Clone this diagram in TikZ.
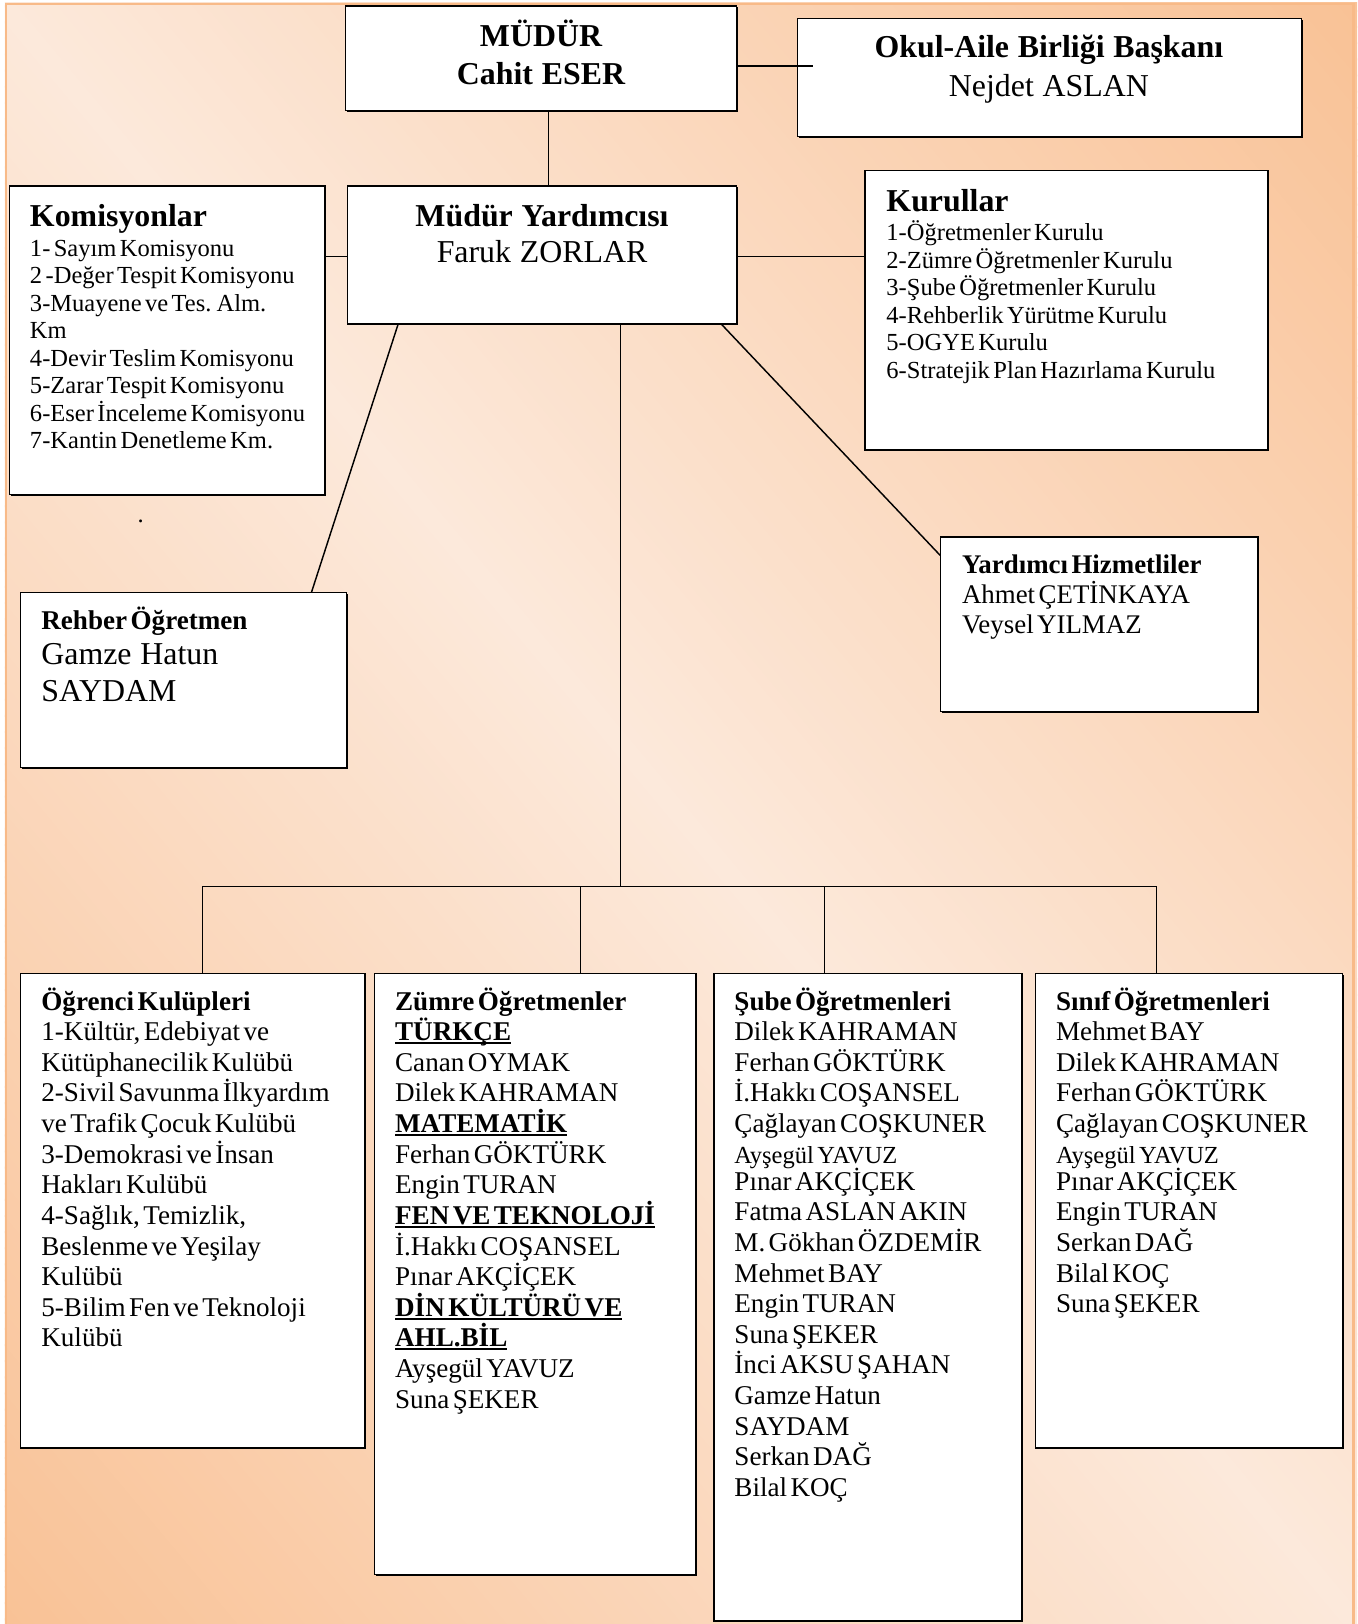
\documentclass[tikz,border=0pt]{standalone}
\usepackage{fontspec}
\setmainfont[WordSpace=1.15]{Liberation Serif}
\usetikzlibrary{shadows}
\definecolor{bglight}{RGB}{252,233,219}
\definecolor{bgdark}{RGB}{249,194,150}
\definecolor{bgedge}{RGB}{248,186,136}
\newcommand\fs[2]{\fontsize{#1}{#2}\selectfont}
\newcommand\wsp{\hspace{8.5pt}}
\newcommand\myul[1]{\leavevmode\setbox0\hbox{#1}\rlap{\rule[-3.4pt]{\wd0}{2.2pt}}\box0}
\tikzset{
  box/.style={draw=black, line width=1.5pt, fill=white, anchor=north west, inner sep=0pt, outer sep=0pt,
     drop shadow={shadow xshift=1.2pt, shadow yshift=-1.2pt, opacity=1, fill=black}},
  con/.style={draw=black, line width=1.4pt, line join=miter},
  txt/.style={anchor=base west, inner sep=0pt, outer sep=0pt, align=left},
  ctxt/.style={anchor=base, inner sep=0pt, outer sep=0pt, align=center},
}
\begin{document}
\begin{tikzpicture}[x=1pt,y=-1pt]
\useasboundingbox (0,0) rectangle (1312,1570);
\fill[white] (0,0) rectangle (1312,1570);
\begin{scope}
\clip (4.8,2.9) rectangle (1312,1575);
\fill[bgdark] (4.8,2.9) rectangle (1312,1575);
\foreach \s in {-1020,-1010,...,1010}{
  \pgfmathsetmacro\p{min(100,abs(\s+5)/10)}
  \fill[bgdark!\p!bglight] ({656+\s*0.7674-1400*0.6413},{786-\s*0.6413-1400*0.7674})
     -- ({656+\s*0.7674+1400*0.6413},{786-\s*0.6413+1400*0.7674})
     -- ({656+(\s+11)*0.7674+1400*0.6413},{786-(\s+11)*0.6413+1400*0.7674})
     -- ({656+(\s+11)*0.7674-1400*0.6413},{786-(\s+11)*0.6413-1400*0.7674}) -- cycle;
}
\end{scope}
\draw[bgedge, line width=2pt] (5.8,1575) -- (5.8,3.9) -- (1308.5,3.9) -- (1308.5,1575);

% boxes
\node[box, minimum width=378pt, minimum height=101pt] (mudur) at (334,6) {};
\node[box, minimum width=487pt, minimum height=114pt] (okul) at (771,18) {};
\node[box, minimum width=376pt, minimum height=133pt] (my) at (336,180) {};
\node[box, minimum width=305pt, minimum height=298pt] (kom) at (9,180) {};
\node[box, minimum width=390pt, minimum height=270pt] (kur) at (836,165) {};
\node[box, minimum width=315pt, minimum height=169pt] (reh) at (20,573) {};
\node[box, minimum width=307pt, minimum height=169pt] (yrd) at (909,519) {};
\node[box, minimum width=333pt, minimum height=459pt] (ogr) at (20,941) {};
\node[box, minimum width=311pt, minimum height=581pt] (zum) at (362,941) {};
\node[box, minimum width=298pt, minimum height=626pt] (sube) at (690,941) {};
\node[box, minimum width=297pt, minimum height=459pt] (sinif) at (1001,941) {};

% texts
\node[ctxt, text width=370pt] (mudurt) at (523,45) {\fs{30.8}{37}\bfseries MÜDÜR\\Cahit\wsp ESER\par};
\node[ctxt, text width=480pt] (okult) at (1014,56) {\fs{30.8}{37}\textbf{Okul-Aile\wsp Birliği\wsp Başkanı}\\Nejdet\wsp ASLAN\par};
\node[ctxt, text width=370pt] (myt) at (524,219) {\fs{30.8}{35}\textbf{Müdür\wsp Yardımcısı}\\Faruk\wsp ZORLAR\par};
\node[txt, text width=295pt] (komt) at (29,219) {{\fs{30.8}{30}\bfseries Komisyonlar\par}\vspace{2pt}\fs{23.7}{26.6}1- Sayım Komisyonu\\
2 -Değer Tespit Komisyonu\\
3-Muayene ve Tes. Alm.\\
Km\\
4-Devir Teslim Komisyonu\\
5-Zarar Tespit Komisyonu\\
6-Eser İnceleme Komisyonu\\
7-Kantin Denetleme Km.\par};
\node[txt] (dot) at (133,505) {\fs{23.7}{26}.\par};
\node[txt, text width=380pt] (kurt) at (857,204) {{\fs{30.8}{30}\bfseries Kurullar\par}\vspace{2pt}\fs{23.7}{26.6}1-Öğretmenler Kurulu\\
2-Zümre Öğretmenler Kurulu\\
3-Şube Öğretmenler Kurulu\\
4-Rehberlik Yürütme Kurulu\\
5-OGYE Kurulu\\
6-Stratejik Plan Hazırlama Kurulu\par};
\node[txt, text width=290pt] (reht) at (40,608.5) {{\fs{26.2}{29}\bfseries Rehber Öğretmen\par}\vspace{-2.5pt}\fs{30.8}{36}Gamze\wsp Hatun\\SAYDAM\par};
\node[txt, text width=290pt] (yrdt) at (930,554.5) {\fs{26}{29}\textbf{Yardımcı Hizmetliler}\\Ahmet ÇETİNKAYA\\Veysel YILMAZ\par};
\node[txt, text width=315pt] (ogrt) at (40,976.5) {\fs{26.2}{29.6}\textbf{Öğrenci Kulüpleri}\\
1-Kültür, Edebiyat ve\\
Kütüphanecilik Kulübü\\
2-Sivil Savunma İlkyardım\\
ve Trafik Çocuk Kulübü\\
3-Demokrasi ve İnsan\\
Hakları Kulübü\\
4-Sağlık, Temizlik,\\
Beslenme ve Yeşilay\\
Kulübü\\
5-Bilim Fen ve Teknoloji\\
Kulübü\par};
\node[txt, text width=290pt] (zumt) at (382,976.5) {\fs{26.2}{29.6}\textbf{Zümre Öğretmenler}\\
\myul{\textbf{TÜRKÇE}}\\
Canan OYMAK\\
Dilek KAHRAMAN\\
\myul{\textbf{MATEMATİK}}\\
Ferhan GÖKTÜRK\\
Engin TURAN\\
\myul{\textbf{FEN VE TEKNOLOJİ}}\\
İ.Hakkı COŞANSEL\\
Pınar AKÇİÇEK\\
\myul{\textbf{DİN KÜLTÜRÜ VE}}\\
\myul{\textbf{AHL.BİL}}\\
Ayşegül YAVUZ\\
Suna ŞEKER\par};
\node[txt, text width=280pt] (subet) at (710,976.5) {\fs{26.2}{29.6}\textbf{Şube Öğretmenleri}\\
Dilek KAHRAMAN\\
Ferhan GÖKTÜRK\\
İ.Hakkı COŞANSEL\\
Çağlayan COŞKUNER\\
{\fs{23.7}{29.6}Ayşegül YAVUZ}\\[-3.5pt]
Pınar AKÇİÇEK\\
Fatma ASLAN AKIN\\
M. Gökhan ÖZDEMİR\\
Mehmet BAY\\
Engin TURAN\\
Suna ŞEKER\\
İnci AKSU ŞAHAN\\
Gamze Hatun\\
SAYDAM\\
Serkan DAĞ\\
Bilal KOÇ\par};
\node[txt, text width=280pt] (sinift) at (1021,976.5) {\fs{26.2}{29.6}\textbf{Sınıf Öğretmenleri}\\
Mehmet BAY\\
Dilek KAHRAMAN\\
Ferhan GÖKTÜRK\\
Çağlayan COŞKUNER\\
{\fs{23.7}{29.6}Ayşegül YAVUZ}\\[-3.5pt]
Pınar AKÇİÇEK\\
Engin TURAN\\
Serkan DAĞ\\
Bilal KOÇ\\
Suna ŞEKER\par};

% connectors
\coordinate (okin) at (786,64);
\draw[con] (mudur.east |- okin) -- (okin);
\coordinate (xa) at (530,0);
\draw[con] (mudur.south -| xa) -- (my.north -| xa);
\coordinate (ya) at (0,248);
\draw[con] (kom.east |- ya) -- (my.west |- ya);
\draw[con] (my.east |- ya) -- (kur.west |- ya);
\coordinate (xr1) at (385,0);
\coordinate (xr2) at (301,0);
\draw[con] (my.south -| xr1) -- (reh.north -| xr2);
\coordinate (xy1) at (697,0);
\coordinate (yy) at (0,537);
\draw[con] (my.south -| xy1) -- (yrd.west |- yy);
\coordinate (bus) at (600,857);
\draw[con] (my.south -| bus) -- (bus);
\coordinate (b1) at (196,857);
\coordinate (b2) at (561,857);
\coordinate (b3) at (797,857);
\coordinate (b4) at (1118,857);
\draw[con] (ogr.north -| b1) -- (b1) -- (b4) -- (sinif.north -| b4);
\draw[con] (b2) -- (zum.north -| b2);
\draw[con] (b3) -- (sube.north -| b3);
\end{tikzpicture}
\end{document}
